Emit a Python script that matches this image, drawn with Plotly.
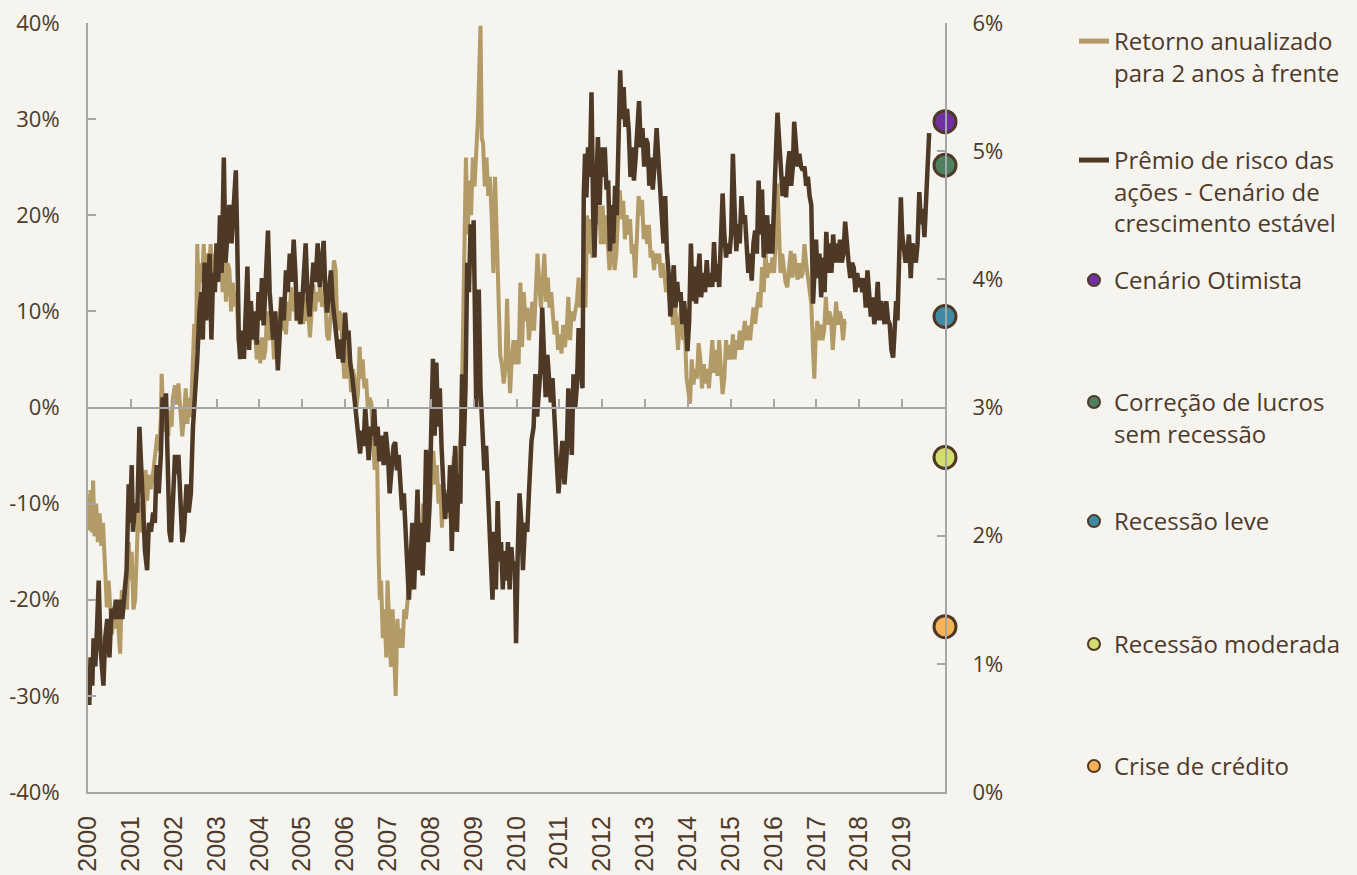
import plotly.graph_objects as go

# ---------------- data ----------------
years = list(range(2000, 2020))
year_labels = [str(y) for y in years]
left_ticks = [-40, -30, -20, -10, 0, 10, 20, 30, 40]
left_labels = ["-40%", "-30%", "-20%", "-10%", "0%", "10%", "20%", "30%", "40%"]
right_ticks = [0, 1, 2, 3, 4, 5, 6]
right_labels = ["0%", "1%", "2%", "3%", "4%", "5%", "6%"]

# Retorno anualizado para 2 anos à frente (left axis, %)
t_ret = [
    2000.00,2000.03,2000.06,2000.09,2000.12,2000.15,2000.19,2000.23,2000.27,2000.31,2000.35,2000.39,2000.44,2000.48,2000.52,2000.56,2000.60,2000.64,2000.68,2000.72,2000.75,2000.79,2000.83,2000.87,2000.91,2000.95,2000.98,
    2001.02,2001.06,2001.10,2001.14,2001.18,2001.22,2001.26,2001.30,2001.34,2001.38,2001.42,2001.46,2001.50,2001.54,2001.58,2001.62,2001.66,2001.70,2001.72,2001.75,2001.79,2001.83,2001.87,2001.91,2001.95,2001.98,
    2002.03,2002.07,2002.11,2002.15,2002.20,2002.24,2002.28,2002.32,2002.36,2002.40,2002.44,2002.48,2002.52,2002.55,2002.58,2002.62,2002.66,2002.70,2002.74,2002.78,2002.82,2002.86,2002.90,2002.94,2002.98,
    2003.02,2003.06,2003.10,2003.14,2003.18,2003.22,2003.26,2003.30,2003.34,2003.38,2003.42,2003.46,2003.50,2003.54,2003.58,2003.62,2003.66,2003.70,2003.74,2003.78,2003.82,2003.86,2003.90,2003.94,2003.98,
    2004.02,2004.06,2004.10,2004.14,2004.18,2004.22,2004.26,2004.30,2004.34,2004.38,2004.42,2004.46,2004.50,2004.54,2004.58,2004.62,2004.66,2004.70,2004.74,2004.78,2004.82,2004.86,2004.90,2004.94,2004.98,
    2005.02,2005.06,2005.10,2005.14,2005.18,2005.22,2005.26,2005.30,2005.34,2005.38,2005.42,2005.46,2005.50,2005.54,2005.58,2005.62,2005.66,2005.70,2005.74,2005.78,2005.82,2005.86,2005.90,2005.94,2005.98,
    2006.02,2006.06,2006.10,2006.14,2006.18,2006.22,2006.26,2006.30,2006.34,2006.37,2006.41,2006.45,2006.49,2006.53,2006.57,2006.61,2006.65,2006.69,2006.72,2006.75,2006.78,2006.81,2006.84,2006.88,2006.92,2006.96,2006.99,
    2007.03,2007.07,2007.11,2007.15,2007.18,2007.22,2007.26,2007.30,2007.34,2007.38,2007.42,2007.46,2007.50,2007.54,2007.58,2007.62,2007.66,2007.70,2007.74,2007.78,2007.82,2007.86,2007.90,2007.94,2007.98,
    2008.02,2008.06,2008.10,2008.14,2008.18,2008.22,2008.26,2008.30,2008.34,2008.38,2008.42,2008.46,2008.50,2008.54,2008.58,2008.62,2008.66,2008.70,2008.74,2008.78,2008.82,2008.86,2008.90,2008.94,2008.98,
    2009.02,2009.06,2009.10,2009.13,2009.16,2009.19,2009.22,2009.26,2009.30,2009.34,2009.38,2009.42,2009.46,2009.50,2009.54,2009.58,2009.62,2009.66,2009.70,2009.74,2009.78,2009.81,2009.85,2009.89,2009.93,2009.97,
    2010.01,2010.05,2010.09,2010.13,2010.17,2010.21,2010.25,2010.29,2010.33,2010.37,2010.41,2010.45,2010.49,2010.53,2010.57,2010.61,2010.65,2010.69,2010.73,2010.77,2010.81,2010.85,2010.89,2010.93,2010.97,
    2011.01,2011.05,2011.09,2011.13,2011.17,2011.21,2011.25,2011.29,2011.33,2011.37,2011.41,2011.45,2011.49,2011.53,2011.57,2011.61,2011.65,2011.69,2011.73,2011.77,2011.81,2011.85,2011.89,2011.93,2011.97,
    2012.01,2012.05,2012.09,2012.13,2012.17,2012.21,2012.25,2012.29,2012.33,2012.37,2012.41,2012.45,2012.49,2012.53,2012.57,2012.61,2012.65,2012.69,2012.73,2012.77,2012.81,2012.85,2012.89,2012.93,2012.97,
    2013.01,2013.05,2013.09,2013.13,2013.17,2013.21,2013.25,2013.29,2013.33,2013.37,2013.41,2013.45,2013.49,2013.53,2013.57,2013.61,2013.65,2013.69,2013.73,2013.77,2013.81,2013.85,2013.89,2013.93,2013.97,
    2014.01,2014.05,2014.09,2014.13,2014.17,2014.21,2014.25,2014.29,2014.33,2014.37,2014.41,2014.45,2014.49,2014.53,2014.57,2014.61,2014.65,2014.69,2014.73,2014.77,2014.81,2014.85,2014.89,2014.93,2014.97,
    2015.01,2015.05,2015.09,2015.13,2015.17,2015.21,2015.25,2015.29,2015.33,2015.37,2015.41,2015.45,2015.49,2015.53,2015.57,2015.61,2015.65,2015.69,2015.73,2015.77,2015.81,2015.85,2015.89,2015.93,2015.97,
    2016.01,2016.05,2016.09,2016.12,2016.16,2016.20,2016.24,2016.28,2016.32,2016.36,2016.40,2016.44,2016.48,2016.52,2016.56,2016.60,2016.64,2016.68,2016.72,2016.76,2016.80,2016.84,2016.88,2016.92,2016.95,2016.98,
    2017.02,2017.06,2017.10,2017.14,2017.18,2017.22,2017.26,2017.30,2017.34,2017.38,2017.42,2017.46,2017.50,2017.54,2017.58,2017.62,2017.66,2017.69,
]
retorno = [
    -9,-12.8,-8.6,-13,-7.6,-13.4,-10,-14,-11,-14.4,-12,-17,-20.8,-18,-21,-23.6,-20.8,-23,-21,-24,-25.6,-19,-20,-18,-21,-14,-18,
    -15,-21,-20,-14.7,-10,-13,-9.7,-12,-6.5,-9.7,-7,-8.5,-7.6,-6,-4,-2.8,-4.5,-1,3.5,-0.5,-2.5,0,-3,-0.3,-2,1,
    2.3,0.3,2.5,-0.4,-3,-1,2,-1.7,1,-1,4.2,8.7,6,17,12,15,13,17,12,16,13,17,14,16,13,
    17,14,19,12,16,11,15,14.3,10,13,10.5,12,7.6,5,7,5.5,6.5,11.5,8,10,7.3,9,7.6,5,7,
    4.6,7.3,5,6,10,7,9,8.7,5,7,5.5,8,11.5,8,10,7.6,11,9,12.5,10,12,9,10,8.7,9.5,
    8.7,11.5,9,10,7.3,11,12.8,10,12,11,12.8,10.5,11,10.8,7.5,7,9,12,15.3,14.3,8,10,9.6,5,3,
    7.6,3,5,1.6,4,3,-0.3,1.5,6.3,3,5,2,3,0,1,0.5,-3,-6.5,-3,-6,-15,-20,-18,-24,-21,-26,-18,
    -22,-27,-21,-25,-30,-22,-25,-23,-25,-21,-22,-20,-16,-19,-16,-17,-13,-15,-12,-16,-10,-13,-11,-13,-10,
    -8.5,-4.5,-8,-6,-10,-8,-12.5,-9,-11,-8.6,-11.5,-9,-7,-5,-10,-6,-5,-2.5,5,14,26,18,23.6,20,26,
    23,26,30,35,39.7,28,27.5,23,26,22,24,20,14,24,17,13,5.4,4.5,2.5,4,11.3,6,1.5,5,7,4.5,
    7,4.5,13,6.3,12,9,10.4,7,9,11,8,12,16,13,10.4,13,16,11,13.5,10.4,12,9.6,7.6,9,6,
    7.6,5.6,8.6,6.3,8,11.5,7,10,9,10.4,11,13.5,10.4,12,13,10.4,20,16,19.6,15.6,17,22,19,21,17,
    21,17,20,16.7,14.3,16,17.4,14.3,16,20,22.6,19.6,21.5,17.5,20,18,19.6,16,17,13.5,19.5,22,20,21.6,17.5,
    19,17,19,15.6,16.3,14.3,16,15,16,13.5,15,14,12,13.5,11,12,8.6,11.5,8,6,9,10.4,7,8,3,
    1.5,0.4,5,2.4,4,3,6.7,5,2,4.5,2.5,4,2,5,7,3.6,6,3.3,7,4,1.4,3,7,5,6.5,
    5,7.6,5,7,6,8,6,7.5,9,7,8.5,7,9,10.4,8.7,10,12,10.4,14.6,12,16.3,13.5,15,14,15.6,
    14,17,23.3,19,14,16,14,13,12.5,14,16.3,13.5,16,14.6,13.3,15,13.5,14,17,15,13.5,11.5,10.8,6,3,7,
    9,7,8.6,7,8,11.5,8.6,10,9.3,6,8,11,8.6,10,9.3,7,9,9,
]

# Prêmio de risco das ações - Cenário de crescimento estável (right axis, %)
t_erp = [
    2000.00,2000.03,2000.06,2000.10,2000.13,2000.17,2000.21,2000.25,2000.29,2000.33,2000.36,2000.40,2000.45,2000.50,2000.55,2000.60,2000.65,2000.70,2000.75,2000.80,2000.85,2000.90,2000.95,2000.98,
    2001.02,2001.05,2001.10,2001.15,2001.20,2001.24,2001.28,2001.33,2001.38,2001.42,2001.47,2001.52,2001.56,2001.60,2001.65,2001.70,2001.74,2001.78,2001.82,2001.86,2001.90,2001.94,2001.98,
    2002.03,2002.07,2002.11,2002.15,2002.20,2002.24,2002.30,2002.35,2002.40,2002.45,2002.50,2002.55,2002.60,2002.64,2002.68,2002.72,2002.76,2002.80,2002.84,2002.88,2002.92,2002.96,
    2003.00,2003.04,2003.08,2003.12,2003.17,2003.21,2003.25,2003.30,2003.35,2003.40,2003.45,2003.48,2003.52,2003.56,2003.60,2003.64,2003.68,2003.72,2003.76,2003.80,2003.85,2003.90,2003.94,2003.98,
    2004.02,2004.06,2004.10,2004.15,2004.20,2004.24,2004.28,2004.32,2004.37,2004.43,2004.48,2004.52,2004.57,2004.62,2004.66,2004.71,2004.76,2004.80,2004.84,2004.88,2004.92,2004.96,
    2005.00,2005.04,2005.08,2005.12,2005.17,2005.21,2005.26,2005.31,2005.36,2005.41,2005.46,2005.50,2005.54,2005.58,2005.62,2005.67,2005.71,2005.76,2005.80,2005.85,2005.90,2005.95,
    2006.00,2006.04,2006.08,2006.12,2006.17,2006.22,2006.27,2006.31,2006.35,2006.39,2006.43,2006.47,2006.51,2006.55,2006.60,2006.64,2006.68,2006.72,2006.76,2006.80,2006.85,2006.90,2006.95,
    2007.00,2007.04,2007.08,2007.13,2007.17,2007.21,2007.25,2007.29,2007.33,2007.37,2007.41,2007.45,2007.49,2007.53,2007.57,2007.61,2007.65,2007.69,2007.73,2007.77,2007.81,2007.85,2007.89,2007.93,2007.97,
    2008.01,2008.05,2008.09,2008.13,2008.17,2008.21,2008.25,2008.29,2008.33,2008.37,2008.41,2008.45,2008.49,2008.53,2008.57,2008.61,2008.65,2008.69,2008.73,2008.77,2008.81,2008.85,2008.89,2008.93,2008.97,
    2009.00,2009.03,2009.06,2009.09,2009.12,2009.16,2009.20,2009.25,2009.29,2009.33,2009.37,2009.41,2009.44,2009.48,2009.52,2009.56,2009.60,2009.64,2009.68,2009.72,2009.76,2009.80,2009.84,2009.88,2009.92,2009.96,2009.99,
    2010.03,2010.07,2010.11,2010.15,2010.20,2010.25,2010.30,2010.35,2010.40,2010.44,2010.48,2010.52,2010.56,2010.60,2010.64,2010.68,2010.72,2010.76,2010.80,2010.84,2010.88,2010.93,2010.98,
    2011.02,2011.07,2011.12,2011.17,2011.21,2011.25,2011.29,2011.33,2011.37,2011.41,2011.45,2011.50,2011.54,2011.57,2011.60,2011.63,2011.67,2011.71,2011.75,2011.79,2011.82,2011.86,2011.90,2011.94,2011.98,
    2012.02,2012.06,2012.10,2012.14,2012.18,2012.22,2012.26,2012.30,2012.34,2012.38,2012.42,2012.46,2012.50,2012.54,2012.58,2012.62,2012.66,2012.70,2012.74,2012.78,2012.82,2012.86,2012.90,2012.94,2012.98,
    2013.02,2013.06,2013.10,2013.14,2013.18,2013.22,2013.27,2013.31,2013.35,2013.39,2013.43,2013.47,2013.51,2013.55,2013.59,2013.63,2013.67,2013.71,2013.75,2013.79,2013.83,2013.87,2013.91,2013.95,2013.99,
    2014.03,2014.07,2014.11,2014.15,2014.19,2014.23,2014.27,2014.31,2014.35,2014.40,2014.44,2014.48,2014.53,2014.57,2014.61,2014.65,2014.69,2014.73,2014.77,2014.81,2014.85,2014.89,2014.93,2014.97,
    2015.01,2015.05,2015.09,2015.13,2015.17,2015.21,2015.25,2015.29,2015.33,2015.37,2015.41,2015.45,2015.49,2015.53,2015.57,2015.61,2015.65,2015.69,2015.73,2015.77,2015.81,2015.85,2015.89,2015.93,2015.97,
    2016.01,2016.05,2016.09,2016.13,2016.17,2016.21,2016.25,2016.29,2016.33,2016.37,2016.41,2016.45,2016.48,2016.52,2016.56,2016.60,2016.64,2016.68,2016.72,2016.76,2016.80,2016.84,2016.88,2016.92,2016.96,2016.99,
    2017.03,2017.07,2017.11,2017.15,2017.19,2017.23,2017.27,2017.31,2017.35,2017.39,2017.43,2017.47,2017.51,2017.55,2017.59,2017.63,2017.67,2017.71,2017.75,2017.79,2017.83,2017.87,2017.91,2017.95,2017.99,
    2018.03,2018.07,2018.11,2018.15,2018.19,2018.23,2018.27,2018.31,2018.35,2018.39,2018.43,2018.47,2018.51,2018.55,2018.59,2018.63,2018.67,2018.71,2018.75,2018.79,2018.83,2018.86,2018.89,2018.93,2018.97,
    2019.00,2019.04,2019.08,2019.12,2019.16,2019.20,2019.24,2019.28,2019.32,2019.36,2019.40,2019.44,2019.48,2019.52,2019.56,2019.60,2019.63,
]
premio = [
    0.98,0.68,1.05,0.83,1.20,0.98,1.28,1.65,1.13,0.90,0.83,1.20,1.35,1.05,1.43,1.35,1.50,1.35,1.50,1.35,1.58,1.73,2.40,2.10,
    2.55,2.03,2.25,2.18,2.85,2.48,2.10,1.88,1.73,2.10,2.03,2.18,2.10,2.55,2.33,2.63,3.08,3.00,3.11,2.70,2.03,1.95,2.25,
    2.63,2.48,2.63,2.33,1.95,2.03,2.40,2.18,2.33,2.85,3.08,3.38,3.75,3.90,3.53,4.13,3.68,3.90,4.20,3.53,4.05,3.90,
    4.28,3.98,4.50,4.05,4.95,4.13,4.35,4.58,4.28,4.65,4.85,4.35,3.53,3.38,3.60,3.38,3.75,4.10,3.45,3.83,3.53,3.75,3.49,3.90,
    3.68,4.01,3.64,3.98,4.38,3.90,3.68,3.53,3.75,3.29,3.60,3.86,3.68,4.07,3.90,4.20,3.98,4.31,4.05,3.68,3.90,3.65,
    3.83,4.05,4.28,3.90,3.71,3.90,4.13,3.98,4.28,3.94,4.13,4.30,3.90,3.74,3.90,4.07,3.83,3.68,3.60,3.38,3.53,3.35,
    3.74,3.53,3.60,3.35,3.23,3.08,2.93,2.78,2.64,2.82,2.70,3.00,2.78,2.59,2.85,2.78,3.00,2.70,2.85,2.58,2.78,2.55,2.81,
    2.63,2.33,2.48,2.70,2.73,2.51,2.63,2.36,2.20,2.33,2.10,1.88,1.50,1.80,2.10,1.58,1.95,2.36,1.73,2.10,1.69,2.03,2.67,1.95,2.25,
    2.70,3.38,2.78,3.35,2.85,3.15,2.70,2.45,2.13,2.33,2.18,2.55,1.88,2.40,2.70,2.03,2.48,2.25,3.26,2.70,3.15,4.13,3.90,4.43,4.11,
    4.46,3.92,3.00,3.60,3.92,3.15,2.81,2.51,2.70,2.36,2.04,1.73,1.50,2.03,1.58,2.27,1.80,1.95,1.58,1.88,1.65,1.95,1.58,1.91,1.73,1.80,1.16,
    1.88,2.33,2.12,1.73,2.10,2.03,2.40,2.74,2.85,3.26,2.93,3.08,3.30,3.78,3.45,3.08,3.41,3.23,3.04,3.23,2.87,2.63,2.33,
    2.55,2.74,2.40,2.63,3.15,2.85,2.63,3.26,3.00,3.17,3.62,3.30,3.15,4.65,4.98,4.64,5.03,4.80,5.46,4.50,4.17,4.70,5.11,4.58,5.03,
    4.80,5.03,4.70,4.77,4.22,4.58,4.28,4.73,4.50,5.10,5.63,5.25,5.50,5.19,5.33,5.16,4.80,5.03,4.77,4.95,5.18,5.39,5.03,5.18,4.88,
    5.10,5.06,4.73,4.95,4.70,4.88,5.18,4.95,4.65,4.50,4.28,4.65,4.22,4.05,3.71,3.90,4.11,3.78,3.98,3.83,3.90,3.65,3.83,3.68,3.44,
    3.68,4.28,3.83,4.10,3.81,3.98,4.20,3.86,4.05,3.90,4.15,3.94,4.05,3.94,4.29,3.98,4.12,3.94,4.35,4.67,4.35,4.17,4.28,4.20,
    4.35,4.98,4.55,4.22,4.43,4.28,4.65,4.43,4.50,4.33,4.05,4.20,3.99,4.28,4.38,4.20,4.77,4.35,4.70,4.17,4.35,4.50,4.20,4.43,4.20,
    4.50,4.95,5.30,5.03,4.91,4.65,4.80,4.64,4.88,5.00,4.73,4.88,5.23,5.00,4.88,4.98,4.88,4.85,4.88,4.73,4.80,4.65,4.58,3.81,4.13,4.31,
    4.01,4.20,3.86,4.17,3.90,4.37,4.05,4.28,4.05,4.35,4.13,4.28,4.13,4.31,4.13,4.20,4.45,4.22,4.13,4.01,4.13,4.09,3.90,4.05,3.94,
    4.01,3.90,4.01,3.78,4.07,3.83,3.71,3.86,3.65,3.75,3.98,3.68,3.83,3.75,3.65,3.83,3.68,3.65,3.45,3.39,3.60,3.83,3.68,4.31,4.64,
    4.35,4.25,4.13,4.20,4.35,4.01,4.28,4.22,4.13,4.28,4.68,4.43,4.55,4.33,4.65,4.95,5.14,
]

# Scenario points (right axis, %)
scenario_names = ["Cenário Otimista", "Correção de lucros<br>sem recessão", "Recessão leve",
                  "Recessão moderada", "Crise de crédito"]
scenario_values = [5.23, 4.89, 3.71, 2.61, 1.29]
scenario_colors = ["#7030A0", "#4E7F5E", "#418AA4", "#D3DC6E", "#F7B157"]
scenario_x = 2020

# ---------------- style ----------------
BG = "#F5F4EF"
TEXT = "#4E3A2A"
AXIS = "#A6A6A6"
TAN = "#B39B68"
DARK = "#4E3927"
FONT = "Open Sans"

# one legend box per entry, so that entries can be spaced like the original
legend_tops = [1.0052, 0.8505, 0.6944, 0.5358, 0.3810, 0.2211, 0.0624]
legend_ids = ["legend"] + ["legend%d" % k for k in range(2, 8)]

fig = go.Figure()

fig.add_trace(go.Scatter(
    x=t_ret, y=retorno, mode="lines", name="Retorno anualizado<br>para 2 anos à frente",
    line=dict(color=TAN, width=4), legend=legend_ids[0], xaxis="x", yaxis="y"))

fig.add_trace(go.Scatter(
    x=t_erp, y=premio, mode="lines",
    name="Prêmio de risco das<br>ações - Cenário de<br>crescimento estável",
    line=dict(color=DARK, width=4.5), legend=legend_ids[1], xaxis="x", yaxis="y2"))

for i, (nm, val, col) in enumerate(zip(scenario_names, scenario_values, scenario_colors)):
    fig.add_trace(go.Scatter(
        x=[scenario_x], y=[val], mode="markers", name=nm,
        marker=dict(size=22, color=col, line=dict(color=DARK, width=3)),
        legend=legend_ids[i + 2], cliponaxis=False, xaxis="x", yaxis="y2"))

# carrier for the zero-line axis
fig.add_trace(go.Scatter(x=[years[0]], y=[0], mode="markers", marker=dict(opacity=0),
                         showlegend=False, hoverinfo="skip", xaxis="x2", yaxis="y"))

legend_style = dict(
    x=1.1505, xanchor="left", yanchor="top",
    font=dict(family=FONT, size=24, color=TEXT),
    bgcolor="rgba(0,0,0,0)", valign="top", itemsizing="constant",
)
legends = {lid: dict(legend_style, y=top) for lid, top in zip(legend_ids, legend_tops)}

fig.update_layout(
    width=1357, height=875,
    margin=dict(l=88, r=412, t=23, b=83, autoexpand=False),
    paper_bgcolor=BG, plot_bgcolor=BG,
    font=dict(family=FONT, color=TEXT, size=22),
    showlegend=True,
    xaxis=dict(
        range=[2000, 2020], tickmode="array", tickvals=years, ticktext=year_labels,
        tickangle=-90, ticks="", showgrid=False, zeroline=False, automargin=False,
        showline=True, linecolor=AXIS, linewidth=2,
        tickfont=dict(family="Liberation Sans", size=25, color=TEXT),
        ticklabelstandoff=12,
    ),
    xaxis2=dict(
        range=[2000, 2020], overlaying="x", anchor="free", position=0.5,
        tickmode="array", tickvals=years, showticklabels=False, automargin=False,
        ticks="inside", ticklen=8, tickwidth=2, tickcolor=AXIS,
        showline=True, linecolor=AXIS, linewidth=2, showgrid=False, zeroline=False,
    ),
    yaxis=dict(
        range=[-40, 40], tickmode="array", tickvals=left_ticks, ticktext=left_labels,
        ticks="inside", ticklen=8, automargin=False,
        tickwidth=2, tickcolor=AXIS, showline=True, linecolor=AXIS, linewidth=2,
        showgrid=False, zeroline=False, ticklabelstandoff=22,
        tickfont=dict(family=FONT, size=22, color=TEXT),
    ),
    yaxis2=dict(
        range=[0, 6], tickmode="array", tickvals=right_ticks, ticktext=right_labels,
        overlaying="y", side="right", automargin=False,
        ticks="inside", ticklen=8, tickwidth=2, tickcolor=AXIS,
        showline=True, linecolor=AXIS, linewidth=2,
        showgrid=False, zeroline=False, ticklabelstandoff=21,
        tickfont=dict(family=FONT, size=22, color=TEXT),
    ),
    **legends,
)

fig.write_html("out.html", config={"displayModeBar": False},
               post_script="document.body.style.margin='0';")
